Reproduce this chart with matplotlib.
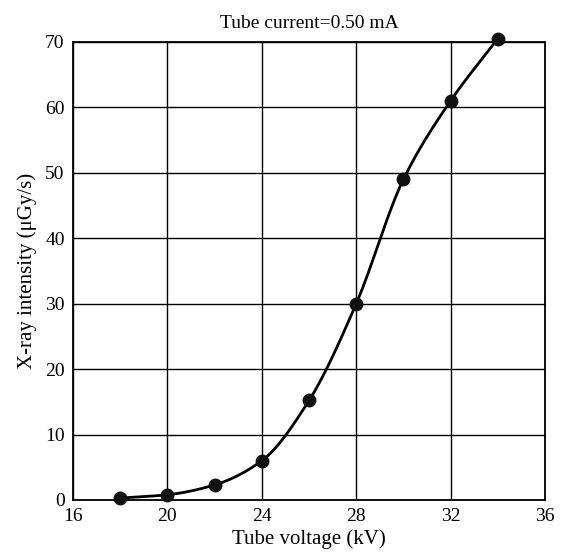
"""
X-ray intensity versus tube voltage at a fixed tube current
"""
import numpy as np
import matplotlib
matplotlib.use('Agg')
from matplotlib import pyplot as plt

voltage_kv = [18, 20, 22, 24, 26, 28, 30, 32, 34]
intensity = [0.3, 0.8, 2.3, 6.0, 15.2, 30.0, 49.0, 61.0, 70.5]

x_ticks = [16, 20, 24, 28, 32, 36]
y_ticks = [0, 10, 20, 30, 40, 50, 60, 70]


def pchip(x, y, xs):
    """
    Monotone cubic through the measured points, just for a smooth line
    """
    x = np.asarray(x, float)
    y = np.asarray(y, float)
    h = np.diff(x)
    d = np.diff(y) / h
    m = np.zeros_like(y)
    for k in range(1, len(x) - 1):
        if d[k - 1] * d[k] > 0:
            w1 = 2 * h[k] + h[k - 1]
            w2 = h[k] + 2 * h[k - 1]
            m[k] = (w1 + w2) / (w1 / d[k - 1] + w2 / d[k])
    m[0] = d[0]
    m[-1] = d[-1]
    idx = np.clip(np.searchsorted(x, xs) - 1, 0, len(x) - 2)
    t = (xs - x[idx]) / h[idx]
    h00 = 2 * t**3 - 3 * t**2 + 1
    h10 = t**3 - 2 * t**2 + t
    h01 = -2 * t**3 + 3 * t**2
    h11 = t**3 - t**2
    return (h00 * y[idx] + h10 * h[idx] * m[idx]
            + h01 * y[idx + 1] + h11 * h[idx] * m[idx + 1])


plt.rcParams['font.family'] = ['Liberation Serif', 'DejaVu Serif']

fig = plt.figure(figsize=(5.66, 5.54), dpi=100)
ax = fig.add_axes([0.129, 0.0975, 0.834, 0.827])

xs = np.linspace(voltage_kv[0], voltage_kv[-1], 300)
ax.plot(xs, pchip(voltage_kv, intensity, xs), color='black', lw=2, clip_on=False)
ax.plot(voltage_kv, intensity, 'o', color='#111111', ms=9, clip_on=False, zorder=5)

ax.set_xlim(16, 36)
ax.set_ylim(0, 70)
ax.set_xticks(x_ticks)
ax.set_yticks(y_ticks)
ax.grid(True, color='black', lw=1)
ax.tick_params(length=0, labelsize=14, pad=6)
for s in ax.spines.values():
    s.set_linewidth(1.3)

ax.set_title('Tube current=0.50 mA', fontsize=14, pad=10)
ax.set_xlabel('Tube voltage (kV)', fontsize=15, labelpad=3)
ax.set_ylabel('X-ray intensity (\u03bcGy/s)', fontsize=15, labelpad=6)

plt.savefig('out.png', dpi=100)
